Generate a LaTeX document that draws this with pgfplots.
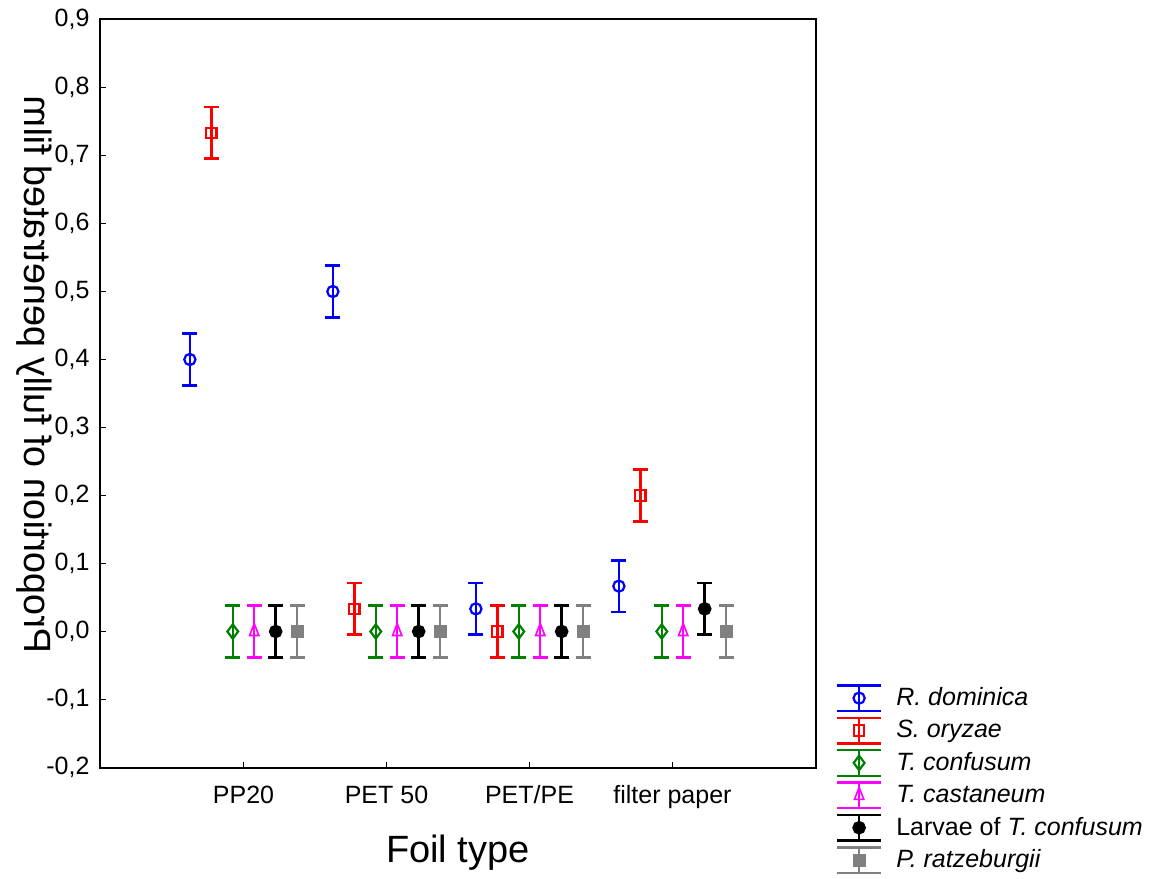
\documentclass[border=0pt]{standalone}
\usepackage{pgfplots}
\pgfplotsset{compat=1.18}
\usepackage{fontspec}
\setmainfont{Liberation Sans}

\definecolor{cblue}{RGB}{0,0,255}
\definecolor{cred}{RGB}{255,0,0}
\definecolor{cgreen}{RGB}{0,128,0}
\definecolor{cmag}{RGB}{255,0,255}
\definecolor{cgray}{RGB}{128,128,128}

% 1 px of the reference = 0.5pt
\pgfplotsset{
  eb/.style={
    only marks, line width=1.2pt,
    error bars/y dir=both, error bars/y explicit,
    error bars/error bar style={line width=1.2pt},
    error bars/error mark options={rotate=90, mark size=3.8pt, line width=1.2pt},
  },
}

\begin{document}
\begin{tikzpicture}
\begin{axis}[
  scale only axis,
  width=357.5pt, height=374pt,
  xmin=0, xmax=5, ymin=-0.2, ymax=0.9,
  axis line style={line width=1pt},
  tick style={line width=0.8pt, black},
  tick align=inside, major tick length=3pt,
  xtick pos=bottom, ytick pos=left,
  xtick={1,2,3,4},
  xticklabels={PP20, PET 50, PET/PE, filter paper},
  ytick={-0.2,-0.1,0,0.1,0.2,0.3,0.4,0.5,0.6,0.7,0.8,0.9},
  yticklabels={{-0,2},{-0,1},{0,0},{0,1},{0,2},{0,3},{0,4},{0,5},{0,6},{0,7},{0,8},{0,9}},
  ticklabel style={font=\fontsize{12.5}{15}\selectfont},
  xticklabel style={anchor=base, yshift=-18pt},
  yticklabel style={xshift=-2pt},
  every axis x label/.style={at={(axis description cs:0.5,-0.127)}, anchor=base,
    font=\fontsize{19}{23}\selectfont},
  every axis y label/.style={at={(axis description cs:-0.092,0.525)}, anchor=center,
    cm={0,1,1,0,(0,0)}, font=\fontsize{19}{23}\selectfont},
  xlabel={Foil type},
  ylabel={Proportion of fully penetrated film},
  legend style={draw=none, fill=none, at={(axis description cs:1.028,0.112)},
    anchor=north west, inner sep=0pt, row sep=2.2pt, column sep=7pt,
    nodes={inner sep=0pt}, font=\fontsize{12.5}{15}\selectfont},
  legend cell align=left,
  legend image code/.code={
    \draw[#1, line width=1.2pt] (0pt,-6.4pt) -- (22pt,-6.4pt)
      (0pt,6.4pt) -- (22pt,6.4pt) (11pt,-6.4pt) -- (11pt,6.4pt);
    \draw[#1] plot coordinates {(11pt,0pt)};
  },
]
\addplot[eb, cblue, mark=o, mark size=2.8pt, mark options={line width=1.1pt}]
  coordinates {(0.625,0.4) +- (0,0.038) (1.625,0.5) +- (0,0.038)
               (2.625,0.0333) +- (0,0.038) (3.625,0.0667) +- (0,0.038)};
\addplot[eb, cred, mark=square, mark size=2.6pt, mark options={line width=1.1pt}]
  coordinates {(0.775,0.7333) +- (0,0.038) (1.775,0.0333) +- (0,0.038)
               (2.775,0) +- (0,0.038) (3.775,0.2) +- (0,0.038)};
\addplot[eb, cgreen, mark=diamond, mark size=3.6pt, mark options={line width=1.1pt}]
  coordinates {(0.925,0) +- (0,0.038) (1.925,0) +- (0,0.038)
               (2.925,0) +- (0,0.038) (3.925,0) +- (0,0.038)};
\addplot[eb, cmag, mark=triangle, mark size=3.8pt,
    mark options={line width=0.8pt, xscale=0.7, yscale=1.05, fill=none}]
  coordinates {(1.075,0) +- (0,0.038) (2.075,0) +- (0,0.038)
               (3.075,0) +- (0,0.038) (4.075,0) +- (0,0.038)};
\addplot[eb, black, mark=*, mark size=2.8pt]
  coordinates {(1.225,0) +- (0,0.038) (2.225,0) +- (0,0.038)
               (3.225,0) +- (0,0.038) (4.225,0.0333) +- (0,0.038)};
\addplot[eb, cgray, mark=square*, mark size=2.6pt]
  coordinates {(1.375,0) +- (0,0.038) (2.375,0) +- (0,0.038)
               (3.375,0) +- (0,0.038) (4.375,0) +- (0,0.038)};
\legend{\textit{R. dominica}, \textit{S. oryzae}, \textit{T. confusum},
  \textit{T. castaneum}, Larvae of \textit{T. confusum}, \textit{P. ratzeburgii}}
\end{axis}
\pgfresetboundingbox
\path (current axis.south west) ++(-50.25pt,-55.25pt) rectangle ++(583.5pt,439pt);
\end{tikzpicture}
\end{document}
